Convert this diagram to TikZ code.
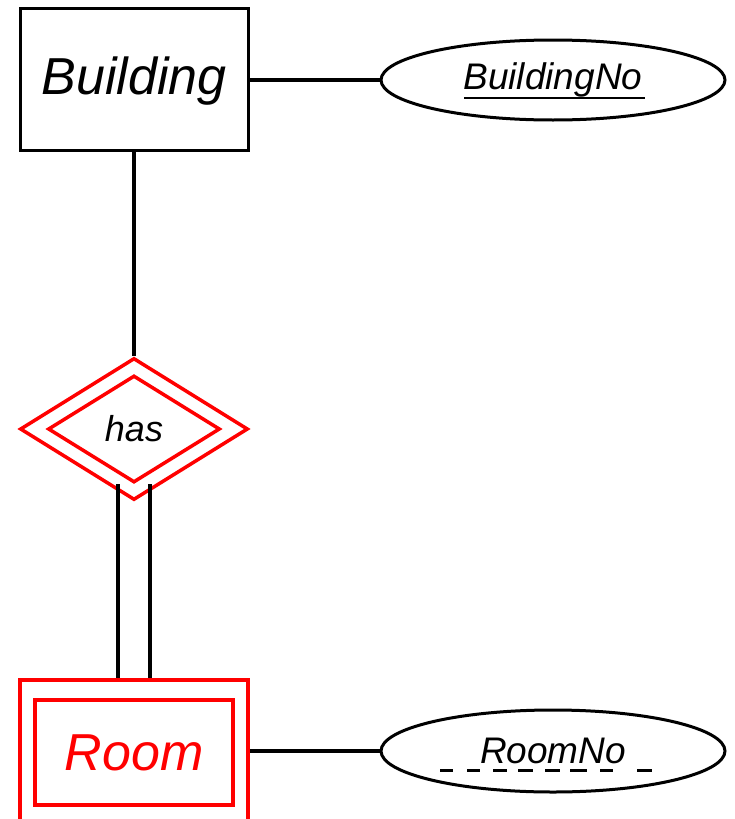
\documentclass[tikz,border=0pt]{standalone}
\usepackage{fontspec}
\setmainfont{Liberation Sans}
\usetikzlibrary{shapes.geometric,calc}
\definecolor{erred}{RGB}{255,0,0}
\begin{document}
\begin{tikzpicture}[x=1pt,y=-1pt,
  entbox/.style={draw=black,line width=3pt,rectangle,minimum width=228pt,minimum height=142pt,inner sep=0pt,font=\fontsize{52}{60}\selectfont\itshape},
  attr/.style={draw=black,line width=3pt,ellipse,inner sep=0pt,font=\fontsize{37}{44}\selectfont\itshape},
  redshape/.style={draw=erred,line width=3.5pt,inner sep=0pt},
  conn/.style={draw=black,line width=3.2pt}]
\useasboundingbox (0,0) rectangle (734,819);
\node[entbox,text depth=0pt,text height=30pt] (building) at (134,79) {Building};
\node[attr,minimum width=344pt,minimum height=80pt] (bno) at (553,80) {BuildingNo};
\node[redshape,diamond,minimum width=228pt,minimum height=142pt] (hasout) at (134,429) {};
\node[redshape,diamond,minimum width=172pt,minimum height=107pt,font=\fontsize{36}{42}\selectfont\itshape] (hasin) at (134,429) {has};
\node[redshape,rectangle,minimum width=228pt,minimum height=150pt] (roomout) at (134,755) {};
\node[redshape,rectangle,minimum width=198pt,minimum height=105pt,text=erred,font=\fontsize{52}{60}\selectfont\itshape] (roomin) at (134,752.5) {Room};
\node[attr,minimum width=344pt,minimum height=82pt] (rno) at (553,751) {RoomNo};
\draw[conn] (building.east |- bno.west) -- (bno.west);
\draw[conn] (building.south) -- (hasout.north);
\draw[conn] ([xshift=-16pt]hasin.south) -- ([xshift=-16pt]roomout.north);
\draw[conn] ([xshift=16pt]hasin.south) -- ([xshift=16pt]roomout.north);
\draw[conn] (roomout.east |- rno.west) -- (rno.west);
\draw[line width=2.5pt] ($(bno.center)+(-89,18)$) -- ($(bno.center)+(92,18)$);
\draw[line width=3pt,dash pattern=on 13pt off 14pt on 13pt off 13pt on 14pt off 11pt on 15pt off 12pt on 15pt off 10pt on 17pt off 13pt on 13pt off 24pt on 15pt off 30pt]
  ($(rno.center)+(-113,19)$) -- ($(rno.center)+(99,19)$);
\end{tikzpicture}
\end{document}
